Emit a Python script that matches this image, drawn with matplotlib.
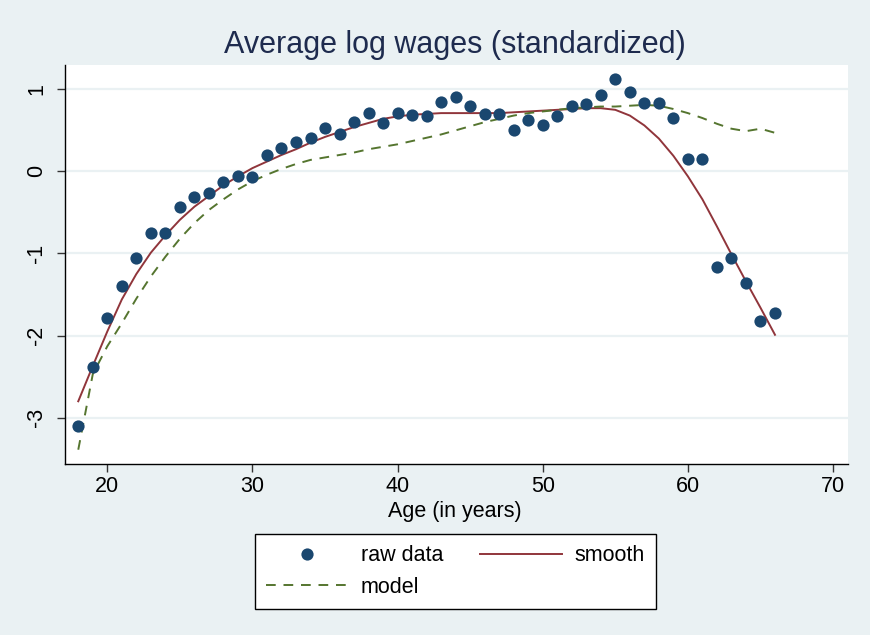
import matplotlib
matplotlib.use("Agg")
import matplotlib.pyplot as plt
from matplotlib.patches import Rectangle

# ---- data ----
ages = list(range(18, 67))
raw_data = [-3.10, -2.38, -1.79, -1.39, -1.06, -0.75, -0.75, -0.43, -0.31, -0.26,
            -0.13, -0.05, -0.07, 0.20, 0.29, 0.36, 0.41, 0.53, 0.45, 0.60,
            0.71, 0.59, 0.71, 0.69, 0.67, 0.85, 0.91, 0.80, 0.70, 0.70,
            0.50, 0.62, 0.57, 0.67, 0.80, 0.82, 0.93, 1.13, 0.97, 0.83,
            0.83, 0.65, 0.155, 0.155, -1.16, -1.06, -1.36, -1.82, -1.72]
smooth = [-2.80, -2.37, -1.95, -1.56, -1.25, -0.99, -0.78, -0.59, -0.43, -0.30,
          -0.17, -0.06, 0.04, 0.12, 0.20, 0.27, 0.35, 0.42, 0.48, 0.54,
          0.59, 0.64, 0.67, 0.69, 0.70, 0.71, 0.71, 0.71, 0.71, 0.71,
          0.72, 0.73, 0.74, 0.75, 0.76, 0.77, 0.77, 0.75, 0.68, 0.56,
          0.40, 0.19, -0.06, -0.34, -0.67, -1.01, -1.34, -1.66, -1.99]
model = [-3.39, -2.47, -2.13, -1.85, -1.55, -1.28, -1.04, -0.82, -0.63, -0.47,
         -0.34, -0.22, -0.12, -0.04, 0.03, 0.09, 0.14, 0.17, 0.20, 0.23,
         0.27, 0.30, 0.33, 0.37, 0.41, 0.45, 0.50, 0.55, 0.60, 0.64,
         0.68, 0.71, 0.73, 0.75, 0.77, 0.78, 0.79, 0.79, 0.80, 0.81,
         0.80, 0.76, 0.71, 0.65, 0.58, 0.52, 0.49, 0.52, 0.47]
x_ticks = [20, 30, 40, 50, 60, 70]
y_ticks = [1, 0, -1, -2, -3]
title = "Average log wages (standardized)"
xlabel = "Age (in years)"
labels = ["raw data", "smooth", "model"]

# ---- style ----
BG = "#EAF1F3"
NAVY = "#1A476F"
MAROON = "#90353B"
GREEN = "#55752F"
plt.rcParams["font.family"] = ["Liberation Sans", "DejaVu Sans"]
FS = 15.5

W, H = 873, 635
fig = plt.figure(figsize=(W / 100, H / 100), dpi=100, facecolor=BG)
fig.patches.append(Rectangle((870 / W, 0), 3 / W, 1, transform=fig.transFigure,
                             facecolor="white", edgecolor="none", zorder=-1))

L, R, T, B = 65, 847.7, 65, 464
ax = fig.add_axes([L / W, 1 - B / H, (R - L) / W, (B - T) / H])
ax.set_facecolor("white")
ax.set_xlim(17.086, 71.01)
ax.set_ylim(-3.564, 1.296)

for y in y_ticks:
    ax.axhline(y, color=BG, lw=1.6, zorder=0)

h_raw, = ax.plot(ages, raw_data, ls="none", marker="o", ms=8.8, color=NAVY,
                 markeredgewidth=0, zorder=3)
h_smooth, = ax.plot(ages, smooth, color=MAROON, lw=1.4, zorder=2)
h_model, = ax.plot(ages, model, color=GREEN, lw=1.4, ls=(0, (5, 4)), zorder=2)

for s in ["top", "right"]:
    ax.spines[s].set_visible(False)
for s in ["left", "bottom"]:
    ax.spines[s].set_linewidth(1.0)
    ax.spines[s].set_color("black")

ax.set_xticks(x_ticks)
ax.set_yticks(y_ticks)
ax.set_yticklabels([str(v) for v in y_ticks], rotation=90, va="center")
ax.tick_params(axis="both", direction="out", length=6, width=1.0,
               labelsize=FS, color="#333333")
ax.tick_params(axis="x", pad=3)
ax.tick_params(axis="y", pad=7)

fig.text(455 / W, 1 - 53.5 / H, title, ha="center", va="baseline",
         fontsize=22, color="#1E2B4E")
fig.text(455 / W, 1 - 517 / H, xlabel, ha="center", va="baseline",
         fontsize=FS, color="black")

leg = fig.legend([h_raw, h_model, h_smooth], [labels[0], labels[2], labels[1]],
                 ncol=2, loc="center", bbox_to_anchor=(455.5 / W, 1 - 571.5 / H),
                 fontsize=FS, frameon=True, fancybox=False, numpoints=1,
                 handlelength=3.8, handletextpad=0.6, columnspacing=1.7,
                 labelspacing=0.5, borderpad=0.5, borderaxespad=0)
fr = leg.get_frame()
fr.set_edgecolor("black")
fr.set_linewidth(1.0)
fr.set_facecolor("white")
fr.set_alpha(1)

fig.savefig("out.png", dpi=100, facecolor=BG)
